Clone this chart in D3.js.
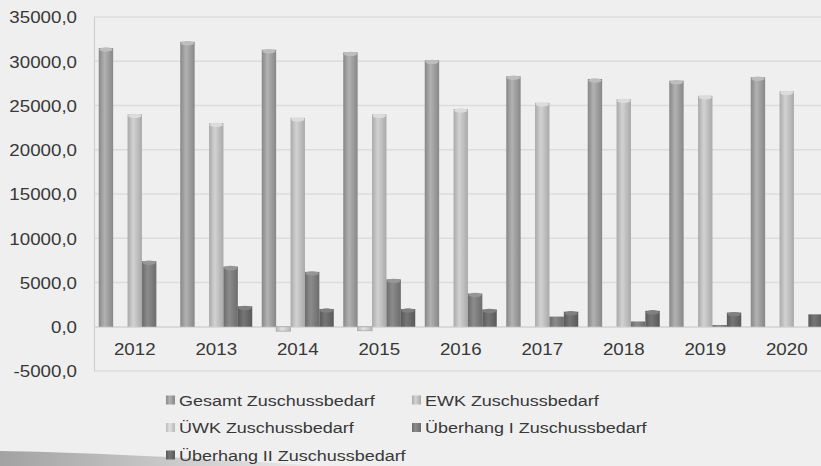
<!DOCTYPE html>
<html>
<head>
<meta charset="utf-8">
<script src="https://cdn.jsdelivr.net/npm/d3@7"></script>
<style>
  html, body { margin: 0; padding: 0; background: #efefef; }
  svg { display: block; }
  text { font-family: "Liberation Sans", Arial, sans-serif; fill: #383838; }
</style>
</head>
<body>
<svg id="chart" width="821" height="466"></svg>
<script>
// Zuschussbedarf per year (values in thousands)
const years = ["2012", "2013", "2014", "2015", "2016", "2017", "2018", "2019", "2020"];
const gesamt     = [31500, 32200, 31300, 31000, 30100, 28300, 28000, 27800, 28200];
const uewk       = [0, 0, -500, -450, 0, 0, 0, 0, 0];
const ewk        = [24000, 23000, 23600, 24000, 24600, 25300, 25700, 26100, 26600];
const ueberhang1 = [7400, 6800, 6200, 5350, 3750, 1150, 600, 200, 0];
const ueberhang2 = [0, 2300, 2000, 2000, 1950, 1700, 1800, 1600, 1400];
const yTicks = [-5000, 0, 5000, 10000, 15000, 20000, 25000, 30000, 35000];

// plotting order of the columns inside each year group
const series = [
  { key: "gesamt", name: "Gesamt Zuschussbedarf",      values: gesamt,     dark: "#878787", light: "#b2b2b2", cap: "#bdbdbd" },
  { key: "uewk",   name: "ÜWK Zuschussbedarf",         values: uewk,       dark: "#b9b9b9", light: "#e2e2e2", cap: "#e8e8e8" },
  { key: "ewk",    name: "EWK Zuschussbedarf",         values: ewk,        dark: "#a9a9a9", light: "#d2d2d2", cap: "#dcdcdc" },
  { key: "ue1",    name: "Überhang I Zuschussbedarf",  values: ueberhang1, dark: "#6c6c6c", light: "#8c8c8c", cap: "#969696" },
  { key: "ue2",    name: "Überhang II Zuschussbedarf", values: ueberhang2, dark: "#595959", light: "#767676", cap: "#808080" }
];
// legend reads row by row
const legendOrder = ["gesamt", "ewk", "uewk", "ue1", "ue2"];

const svg = d3.select("#chart");
const stretch = 1.17;  // horizontal stretch of all lettering

const plotLeft = 94, plotTop = 17, plotBottom = 371;
const bandW = 81.5;
const x0 = d3.scaleBand().domain(years).range([plotLeft, plotLeft + bandW * years.length]).padding(0);
const x1 = d3.scaleBand().domain(series.map(s => s.key)).range([4.75, bandW - 4.75]).padding(0);
const y = d3.scaleLinear().domain([-5000, 35000]).range([plotBottom, plotTop]);

const fmt = d3.formatLocale({ decimal: ",", thousands: ".", grouping: [3], currency: ["", "€"], minus: "-" }).format(".1f");

// gradients giving the columns a rounded look
const defs = svg.append("defs");
series.forEach(s => {
  const g = defs.append("linearGradient").attr("id", "grad-" + s.key)
    .attr("x1", 0).attr("x2", 1).attr("y1", 0).attr("y2", 0);
  g.append("stop").attr("offset", "0%").attr("stop-color", s.dark);
  g.append("stop").attr("offset", "40%").attr("stop-color", s.light);
  g.append("stop").attr("offset", "100%").attr("stop-color", s.dark);
});
const sw = defs.append("linearGradient").attr("id", "swoosh").attr("x1", 0).attr("x2", 1);
sw.append("stop").attr("offset", "0%").attr("stop-color", "#a2a2a2");
sw.append("stop").attr("offset", "55%").attr("stop-color", "#cdcdcd");
sw.append("stop").attr("offset", "100%").attr("stop-color", "#efefef");

// decorative swoosh at the bottom left (behind the legend)
svg.append("path")
  .attr("d", "M0,451 Q120,453 340,467 L0,467 Z")
  .attr("fill", "url(#swoosh)");

// horizontal gridlines
svg.append("g").selectAll("line").data(yTicks).join("line")
  .attr("x1", plotLeft).attr("x2", 840)
  .attr("y1", d => y(d)).attr("y2", d => y(d))
  .attr("stroke", "#dcdcdc").attr("stroke-width", 1.5);

// value axis
const yAxis = svg.append("g").attr("transform", `translate(${plotLeft},0)`)
  .call(d3.axisLeft(y).tickValues(yTicks).tickFormat(fmt).tickSize(0).tickPadding(0));
yAxis.select(".domain").attr("stroke", "#cfcfcf").attr("stroke-width", 1.2);
yAxis.selectAll("text")
  .attr("x", -17 / stretch).attr("dy", "0.36em")
  .attr("transform", `scale(${stretch},1)`)
  .style("font-size", "16px").style("font-family", "'Liberation Sans', Arial, sans-serif").attr("fill", "#383838");

// category axis at zero
const xAxis = svg.append("g").attr("transform", `translate(0,${y(0)})`)
  .call(d3.axisBottom(x0).tickSize(0).tickPadding(0));
xAxis.select(".domain").attr("stroke", "#d4d4d4").attr("stroke-width", 1.2);
xAxis.selectAll("text")
  .attr("y", 28).attr("dy", "0")
  .attr("transform", `scale(${stretch},1)`)
  .style("font-size", "16px").style("font-family", "'Liberation Sans', Arial, sans-serif").attr("fill", "#383838");

// columns
const groups = svg.append("g").selectAll("g").data(years).join("g")
  .attr("transform", d => `translate(${x0(d)},0)`);

series.forEach(s => {
  const bw = x1.bandwidth();
  groups.append("rect")
    .attr("x", x1(s.key))
    .attr("width", bw)
    .attr("y", (d, i) => Math.min(y(s.values[i]), y(0)))
    .attr("height", (d, i) => Math.abs(y(s.values[i]) - y(0)))
    .attr("fill", `url(#grad-${s.key})`)
    .attr("stroke", s.key === "uewk" ? "#a8a8a8" : "none")
    .attr("stroke-width", 0.8);
  groups.filter((d, i) => s.values[i] > 1500).append("ellipse")
    .attr("cx", x1(s.key) + bw / 2)
    .attr("cy", d => y(s.values[years.indexOf(d)]) + 1.5)
    .attr("rx", bw / 2 - 0.5)
    .attr("ry", 2.2)
    .attr("fill", s.cap);
});

// legend
const legendPos = [
  { x: 166, y: 400 }, { x: 412, y: 400 },
  { x: 166, y: 427.5 }, { x: 412, y: 427.5 },
  { x: 166, y: 455 }
];
const byKey = Object.fromEntries(series.map(s => [s.key, s]));
const legend = svg.append("g").selectAll("g").data(legendOrder).join("g")
  .attr("transform", (d, i) => `translate(${legendPos[i].x},${legendPos[i].y})`);
legend.append("rect")
  .attr("x", 0).attr("y", -4.5).attr("width", 9).attr("height", 9)
  .attr("fill", d => `url(#grad-${d})`);
legend.append("text")
  .attr("transform", `translate(13,0) scale(${stretch - 0.01},1)`)
  .attr("dy", "0.36em")
  .style("font-size", "15.5px")
  .text(d => byKey[d].name);
</script>
</body>
</html>
